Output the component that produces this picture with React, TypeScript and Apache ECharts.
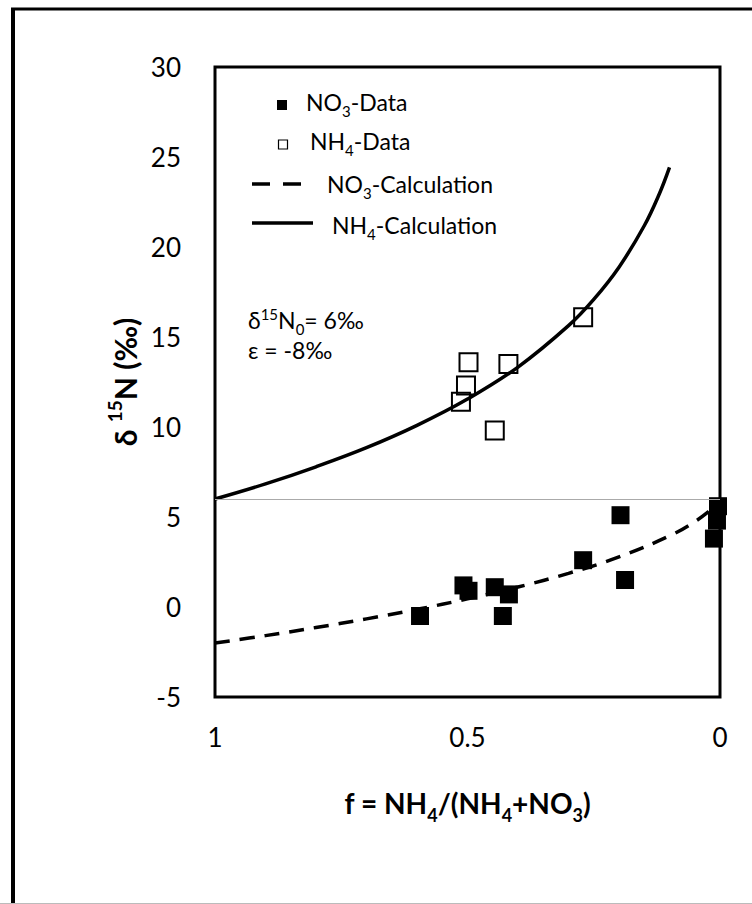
import React, { useEffect, useRef } from "react";
import * as echarts from "echarts";

// Calculated curves
const fNh4Calc = [1, 0.9, 0.8, 0.7, 0.6, 0.5, 0.4, 0.3, 0.25, 0.2, 0.15, 0.12, 0.1];
const nh4Calc = [6.0, 6.84, 7.79, 8.85, 10.09, 11.55, 13.33, 15.63, 17.09, 18.88, 21.18, 22.96, 24.42];
const fNo3Calc = [1, 0.9, 0.8, 0.7, 0.6, 0.5, 0.4, 0.3, 0.2, 0.1, 0.05, 0.02, 0.01];
const no3Calc = [-2.0, -1.59, -1.14, -0.66, -0.13, 0.45, 1.11, 1.87, 2.78, 3.95, 4.74, 5.36, 5.63];

// Measured data
const fNo3Data = [0.197, 0.188, 0.271, 0.594, 0.508, 0.498, 0.446, 0.418, 0.43, 0.004, 0.006, 0.012];
const no3Data = [5.1, 1.5, 2.6, -0.5, 1.2, 0.9, 1.1, 0.7, -0.5, 5.6, 4.8, 3.8];
const fNh4Data = [0.271, 0.498, 0.419, 0.503, 0.513, 0.446];
const nh4Data = [16.1, 13.6, 13.5, 12.3, 11.4, 9.8];

const yTicks = { min: -5, max: 30, interval: 5 };
const xTicks = { min: 0, max: 1, interval: 0.5 };
const delta0 = 6;

const FONT = "Lato, 'Open Sans', sans-serif";

const zip = (a: number[], b: number[]) => a.map((v, i) => [v, b[i]]);

export default function App() {
  const ref = useRef<HTMLDivElement>(null);
  useEffect(() => {
    if (!ref.current) return;
    const chart = echarts.init(ref.current, null, { renderer: "svg" });
    const sub = { fontSize: 15, fontFamily: FONT, verticalAlign: "bottom", padding: [0, 0, -5, 0], color: "#000" };
    const legendText = { fontSize: 23, fontFamily: FONT, color: "#000" };
    chart.setOption({
      animation: false,
      backgroundColor: "#fff",
      grid: {
        left: 215,
        right: 32,
        top: 67,
        bottom: 207,
        show: true,
        borderColor: "#000",
        borderWidth: 3,
      },
      xAxis: {
        type: "value",
        inverse: true,
        min: xTicks.min,
        max: xTicks.max,
        interval: xTicks.interval,
        axisLine: { show: false },
        axisTick: { show: false },
        splitLine: { show: false },
        axisLabel: {
          fontSize: 26,
          fontFamily: FONT,
          color: "#000",
          margin: 27,
          formatter: (v: number) => String(v),
        },
        name: "{b|f = NH}{s|4}{b|/(NH}{s|4}{b|+NO}{s|3}{b|)}",
        nameLocation: "middle",
        nameGap: 92,
        nameTextStyle: {
          rich: {
            b: { fontSize: 28, fontWeight: "bold", fontFamily: FONT, color: "#000" },
            s: { fontSize: 18, fontWeight: "bold", fontFamily: FONT, color: "#000", verticalAlign: "bottom", padding: [0, 0, -7, 0] },
          },
        },
      },
      yAxis: {
        type: "value",
        min: yTicks.min,
        max: yTicks.max,
        interval: yTicks.interval,
        axisLine: { show: false },
        axisTick: { show: false },
        splitLine: { show: false },
        axisLabel: { fontSize: 26, fontFamily: FONT, color: "#000", margin: 34 },
        name: "{b|δ }{p|15}{b|N (‰)}",
        nameLocation: "middle",
        nameGap: 62,
        nameTextStyle: {
          rich: {
            b: { fontSize: 30, fontWeight: "bold", fontFamily: FONT, color: "#000" },
            p: { fontSize: 19, fontWeight: "bold", fontFamily: FONT, color: "#000", verticalAlign: "top", padding: [-5, 0, 0, 0] },
          },
        },
      },
      series: [
        {
          name: "NH4-Data",
          type: "scatter",
          data: zip(fNh4Data, nh4Data),
          symbol: "rect",
          symbolSize: 18,
          itemStyle: { color: "rgba(0,0,0,0)", borderColor: "#000", borderWidth: 2, opacity: 1 },
          z: 3,
        },
        {
          name: "NO3-Data",
          type: "scatter",
          data: zip(fNo3Data, no3Data),
          symbol: "rect",
          symbolSize: 18,
          itemStyle: { color: "#000", opacity: 1 },
          z: 3,
        },
        {
          name: "NH4-Calculation",
          type: "line",
          data: zip(fNh4Calc, nh4Calc),
          smooth: 0.4,
          showSymbol: false,
          lineStyle: { color: "#000", width: 3.5 },
          z: 4,
          markLine: {
            silent: true,
            symbol: "none",
            label: { show: false },
            lineStyle: { color: "#aaa", width: 1, type: "solid" },
            data: [{ yAxis: delta0 }],
          },
        },
        {
          name: "NO3-Calculation",
          type: "line",
          data: zip(fNo3Calc, no3Calc),
          smooth: 0.4,
          showSymbol: false,
          lineStyle: { color: "#000", width: 3.5, type: [15, 10] },
          z: 4,
        },
      ],
      graphic: [
        // outer frame
        { type: "line", shape: { x1: 11, y1: 9, x2: 752, y2: 9 }, style: { stroke: "#000", lineWidth: 3 } },
        { type: "line", shape: { x1: 13, y1: 8, x2: 13, y2: 904 }, style: { stroke: "#000", lineWidth: 4 } },
        { type: "line", shape: { x1: 0, y1: 903.5, x2: 752, y2: 903.5 }, style: { stroke: "#bbb", lineWidth: 1 } },
        // legend
        { type: "rect", shape: { x: 277, y: 100, width: 10, height: 10 }, style: { fill: "#000" } },
        {
          type: "text", x: 306, y: 102,
          style: { text: "{t|NO}{s|3}{t|-Data}", verticalAlign: "middle", rich: { t: legendText, s: sub } },
        },
        { type: "rect", shape: { x: 278.5, y: 140, width: 9, height: 9 }, style: { fill: "#fff", stroke: "#000", lineWidth: 1.2 } },
        {
          type: "text", x: 310, y: 141,
          style: { text: "{t|NH}{s|4}{t|-Data}", verticalAlign: "middle", rich: { t: legendText, s: sub } },
        },
        { type: "line", shape: { x1: 252, y1: 184, x2: 301, y2: 184 }, style: { stroke: "#000", lineWidth: 3.5, lineDash: [18, 13] } },
        {
          type: "text", x: 327, y: 184,
          style: { text: "{t|NO}{s|3}{t|-Calculation}", verticalAlign: "middle", rich: { t: legendText, s: sub } },
        },
        { type: "line", shape: { x1: 252, y1: 223, x2: 313, y2: 223 }, style: { stroke: "#000", lineWidth: 3.5 } },
        {
          type: "text", x: 332, y: 225,
          style: { text: "{t|NH}{s|4}{t|-Calculation}", verticalAlign: "middle", rich: { t: legendText, s: sub } },
        },
        // annotation
        {
          type: "text", x: 248, y: 320,
          style: {
            text: "{t|δ}{p|15}{t|N}{s|0}{t|= 6‰}",
            verticalAlign: "middle",
            rich: {
              t: { fontSize: 23, lineHeight: 24, fontFamily: FONT, color: "#000" },
              p: { fontSize: 15, lineHeight: 16, fontFamily: FONT, color: "#000", verticalAlign: "top", padding: [-2, 0, 0, 0] },
              s: { fontSize: 15, lineHeight: 16, fontFamily: FONT, color: "#000", verticalAlign: "bottom", padding: [0, 0, -4, 0] },
            },
          },
        },
        {
          type: "text", x: 248, y: 350,
          style: { text: "ε = -8‰", verticalAlign: "middle", fontSize: 23, lineHeight: 24, fontFamily: FONT, fill: "#000" },
        },
      ],
    });
    return () => chart.dispose();
  }, []);
  return <div ref={ref} style={{ position: "absolute", left: 0, top: 0, width: 752, height: 904 }} />;
}
